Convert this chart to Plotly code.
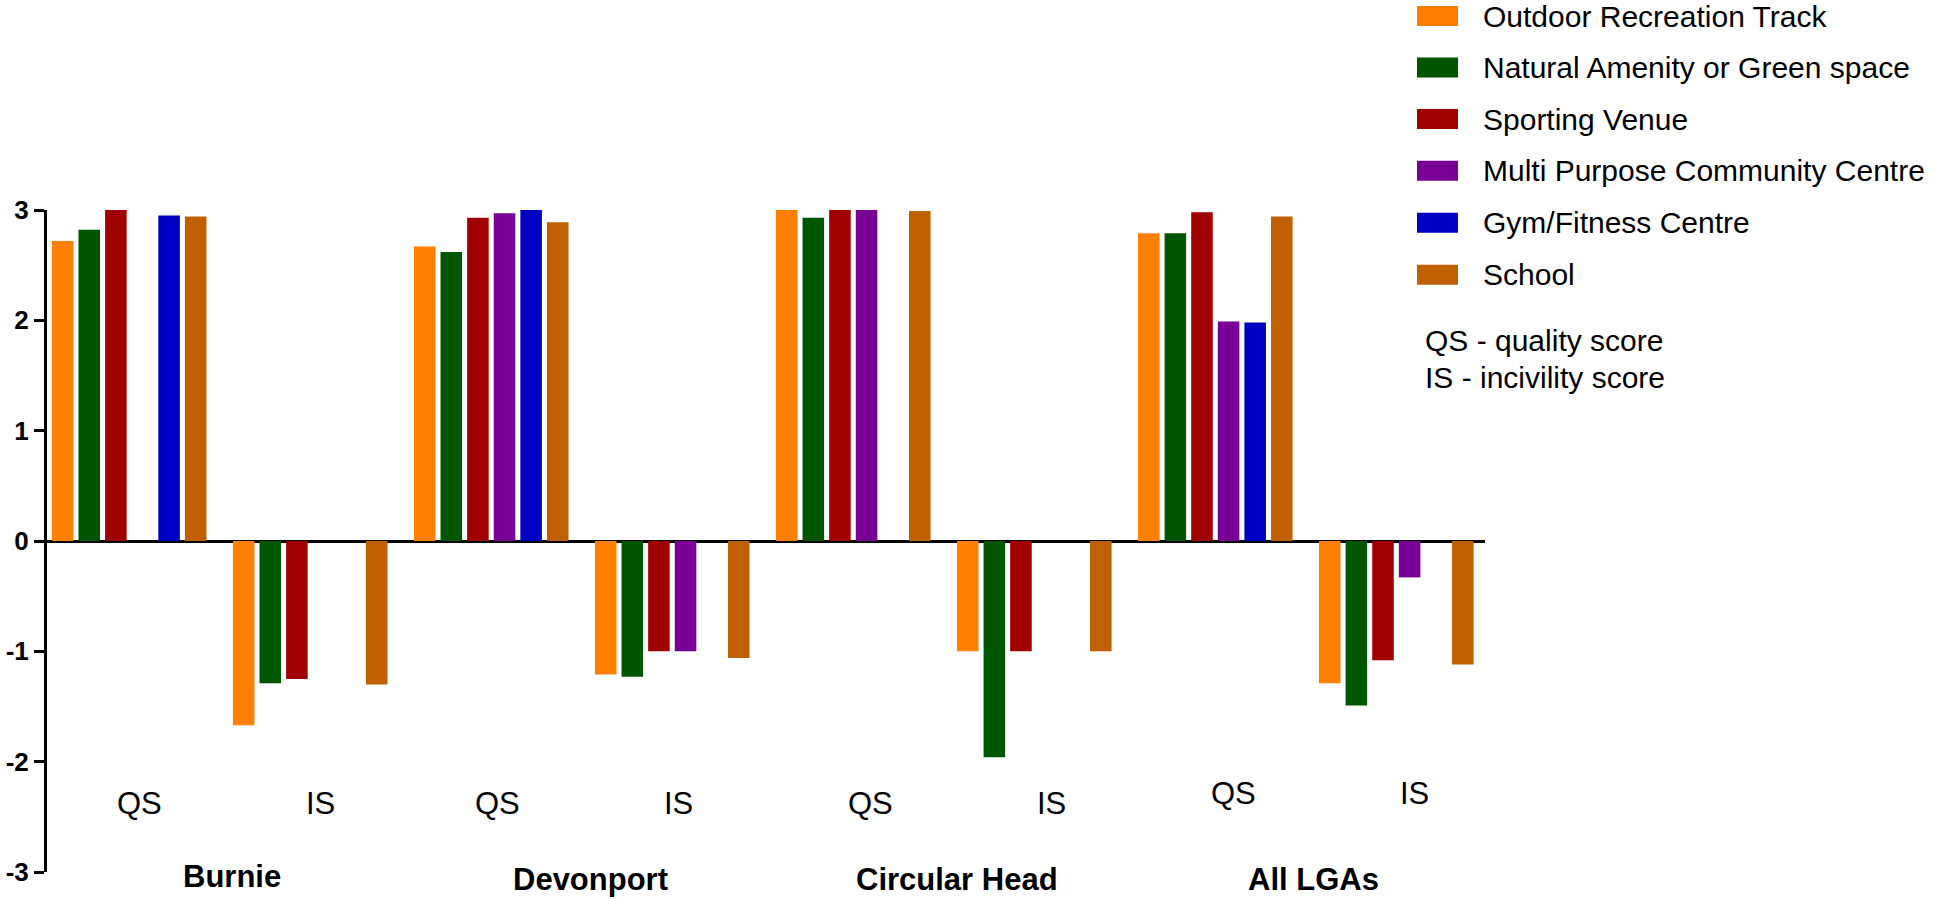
import plotly.graph_objects as go

# ---- data ----
lgas = ["Burnie", "Devonport", "Circular Head", "All LGAs"]
scores = ["QS", "IS"]
series_names = [
    "Outdoor Recreation Track",
    "Natural Amenity or Green space",
    "Sporting Venue",
    "Multi Purpose Community Centre",
    "Gym/Fitness Centre",
    "School",
]
series_colors = ["#FF8000", "#005500", "#A00000", "#780096", "#0000C4", "#C06000"]

# order: Burnie QS, Burnie IS, Devonport QS, Devonport IS, Circular Head QS, Circular Head IS, All QS, All IS
outdoor = [2.72, -1.67, 2.67, -1.21, 3.00, -1.00, 2.79, -1.29]
natural = [2.82, -1.29, 2.62, -1.23, 2.93, -1.96, 2.79, -1.49]
sporting = [3.00, -1.25, 2.93, -1.00, 3.00, -1.00, 2.98, -1.08]
multi = [None, None, 2.97, -1.00, 3.00, None, 1.99, -0.33]
gym = [2.95, None, 3.00, None, None, None, 1.98, None]
school = [2.94, -1.30, 2.89, -1.06, 2.99, -1.00, 2.94, -1.12]
series_values = [outdoor, natural, sporting, multi, gym, school]

y_ticks = [-3, -2, -1, 0, 1, 2, 3]
notes = ["QS - quality score", "IS - incivility score"]

categories = [f"{l} {s}" for l in lgas for s in scores]
xpos = list(range(len(categories)))

FONT = "Arial, Liberation Sans, sans-serif"
W, H = 1943, 900
PL, PR, PT, PB = 47, 1485, 210, 872          # plot area in window pixels
L, T, R, B = PL, PT, W - PR, H - PB
PW, PH = PR - PL, PB - PT


def px(x):
    return (x - PL) / PW


def py(y):
    return (PB - y) / PH


fig = go.Figure()
for name, vals, col in zip(series_names, series_values, series_colors):
    fig.add_trace(go.Bar(
        x=xpos, y=vals, name=name, marker=dict(color=col, line=dict(width=0)),
        customdata=categories, hovertemplate="%{customdata}<br>" + name + ": %{y}<extra></extra>",
        showlegend=False,
    ))

annotations = []
# QS / IS labels
qs_shift = [10, 6, 17, 18]
qs_y = [-2.38, -2.38, -2.38, -2.29]
grp_shift = [12, 9, 13, 8]
grp_y = [876, 879, 879, 879]
for gi, lga in enumerate(lgas):
    for si, s in enumerate(scores):
        annotations.append(dict(
            x=2 * gi + si, y=qs_y[gi], xref="x", yref="y", text=s, showarrow=False,
            xshift=qs_shift[gi], font=dict(family=FONT, size=31, color="#000"),
            xanchor="center", yanchor="middle"))
    annotations.append(dict(
        x=2 * gi + 0.5, y=py(grp_y[gi]), xref="x", yref="paper",
        text=f"<b>{lga}</b>", showarrow=False, xshift=grp_shift[gi],
        font=dict(family=FONT, size=31, color="#000"), xanchor="center", yanchor="middle"))

# manual legend
shapes = []
row_y = [16, 67.5, 119, 170.7, 222.7, 274.7]
for name, col, ry in zip(series_names, series_colors, row_y):
    shapes.append(dict(type="rect", xref="paper", yref="paper",
                       x0=px(1417), x1=px(1458), y0=py(ry + 10), y1=py(ry - 10),
                       fillcolor=col, line=dict(width=0)))
    annotations.append(dict(x=px(1481), y=py(ry), xref="paper", yref="paper", text=name,
                            showarrow=False, xanchor="left", yanchor="middle",
                            font=dict(family=FONT, size=30, color="#000")))
for txt, ny in zip(notes, [340, 377]):
    annotations.append(dict(x=px(1423), y=py(ny), xref="paper", yref="paper", text=txt,
                            showarrow=False, xanchor="left", yanchor="middle",
                            font=dict(family=FONT, size=30, color="#000")))

fig.update_layout(
    width=W, height=H,
    margin=dict(l=L, r=R, t=T, b=B, pad=0, autoexpand=False),
    paper_bgcolor="white", plot_bgcolor="white",
    barmode="group", bargap=0.118, bargroupgap=0.19,
    showlegend=False,
    annotations=annotations, shapes=shapes,
    xaxis=dict(range=[-0.454, 7.49], showticklabels=False, showgrid=False,
               zeroline=False, showline=False, ticks=""),
    yaxis=dict(range=[-3, 3], tickvals=y_ticks, ticktext=[f"<b>{v}</b>" for v in y_ticks],
               showgrid=False, zeroline=True, zerolinecolor="#000", zerolinewidth=3,
               showline=True, linecolor="#000", linewidth=3,
               ticks="outside", ticklen=10, tickwidth=3, tickcolor="#000",
               tickfont=dict(family=FONT, size=26, color="#000"), layer="above traces"),
)

# remove the browser's default 8px body margin so the figure fills the window exactly
fig.write_html("out.html", config={"displayModeBar": False},
               post_script="document.body.style.margin='0';")
